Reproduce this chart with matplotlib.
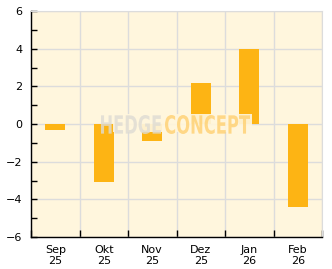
import numpy as np
import matplotlib
matplotlib.use("Agg")
import matplotlib.pyplot as plt
from matplotlib.textpath import TextPath
from matplotlib.patches import PathPatch, Rectangle
from matplotlib.font_manager import FontProperties
from matplotlib.transforms import Affine2D, IdentityTransform

MONTHS = ["Sep", "Okt", "Nov", "Dez", "Jan", "Feb"]
YEARS = ["25", "25", "25", "25", "26", "26"]
VALUES = [-0.3, -3.1, -0.9, 2.2, 4.0, -4.4]

BAR_COLOR = "#fdb414"
BG_COLOR = "#fff6dd"
GRID_COLOR = "#dcdcdc"


def add_watermark(fig, word, box, color, alpha):
    # squeeze a bold word into a pixel box (x0, y0, x1, y1), origin bottom left
    fp = FontProperties(family="DejaVu Sans", weight="bold")
    path = TextPath((0, 0), word, size=10, prop=fp)
    ext = path.get_extents()
    x0, y0, x1, y1 = box
    sx = (x1 - x0) / ext.width
    sy = (y1 - y0) / ext.height
    tr = Affine2D().translate(-ext.x0, -ext.y0).scale(sx, sy).translate(x0, y0)
    patch = PathPatch(path, transform=tr, facecolor=color, edgecolor="none",
                      alpha=alpha, zorder=10)
    fig.add_artist(patch)


def main():
    fig = plt.figure(figsize=(3.32, 2.69), dpi=100)
    ax = fig.add_axes([31 / 332, 32 / 269, 291 / 332, 226 / 269])
    ax.set_facecolor(BG_COLOR)

    x = np.arange(len(VALUES)) + 0.5
    ax.bar(x, VALUES, width=0.41, color=BAR_COLOR, zorder=3)

    ax.set_xlim(0, len(VALUES))
    ax.set_ylim(-6, 6)

    # boundaries as major ticks, labels on minor ticks at the centres
    ax.set_xticks(np.arange(len(VALUES) + 1))
    ax.set_xticklabels([])
    ax.set_xticks(x, minor=True)
    ax.set_xticklabels([f"{m}\n{y}" for m, y in zip(MONTHS, YEARS)], minor=True,
                       linespacing=1.1)
    ax.tick_params(axis="x", which="major", direction="in", length=5, width=1,
                   color="black")
    ax.tick_params(axis="x", which="minor", length=0, pad=6, labelsize=8)

    ax.set_yticks(np.arange(-6, 7, 2))
    ax.set_yticks(np.arange(-5, 6, 2), minor=True)
    ax.tick_params(axis="y", which="both", direction="in", length=4, width=1,
                   color="black", labelsize=8, pad=6)

    ax.grid(True, which="major", color=GRID_COLOR, linewidth=1, zorder=0)
    ax.set_axisbelow(True)

    for side in ("top", "right"):
        ax.spines[side].set_color(GRID_COLOR)
    for side in ("left", "bottom"):
        ax.spines[side].set_color("black")
        ax.spines[side].set_linewidth(1)

    # watermark: pale plate behind the letters hides part of the bars
    plate = Rectangle((113, 137), 139, 18, transform=IdentityTransform(),
                      facecolor=BG_COLOR, edgecolor="none", alpha=0.92, zorder=9)
    fig.add_artist(plate)
    add_watermark(fig, "HEDGE", (101, 135, 161, 154), "#dedbd3", 0.8)
    add_watermark(fig, "CONCEPT", (165, 135, 250, 154), "#ffd070", 0.8)

    fig.savefig("out.png", dpi=100, facecolor="white")


if __name__ == "__main__":
    main()
